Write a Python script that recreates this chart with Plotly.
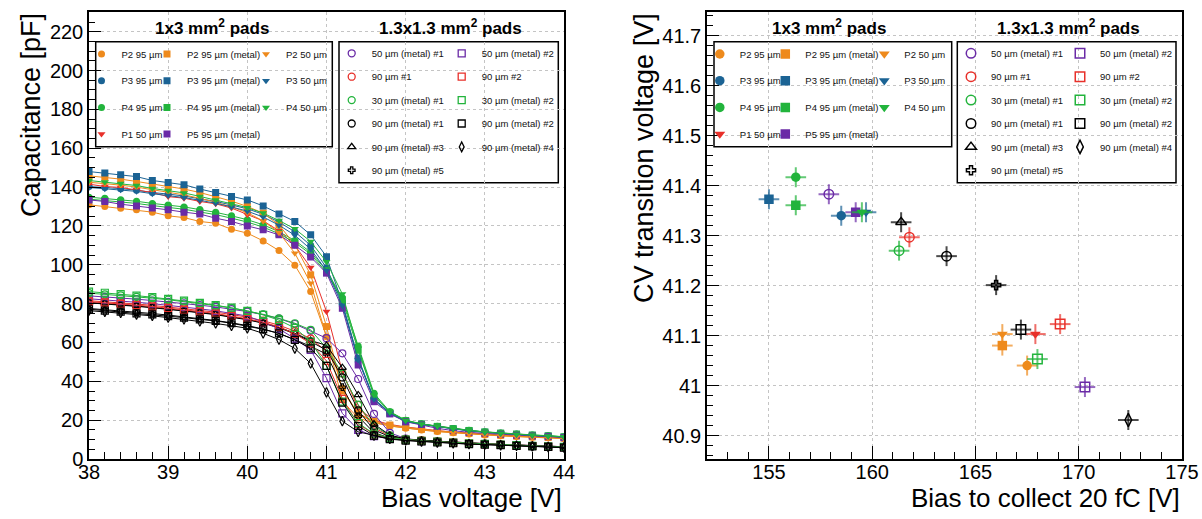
import plotly.graph_objects as go

W, H = 1202, 519

# ---------------- data: left panel (C-V curves) ----------------
bias_v = [38.0, 38.2, 38.4, 38.6, 38.8, 39.0, 39.2, 39.4, 39.6, 39.8, 40.0,
          40.2, 40.4, 40.6, 40.8, 41.0, 41.2, 41.4, 41.6, 41.8, 42.0, 42.2,
          42.4, 42.6, 42.8, 43.0, 43.2, 43.4, 43.6, 43.8, 44.0]

cap_p2_95 = [130.9, 130.0, 129.1, 128.3, 127.1, 125.2, 124.3, 122.3, 121.4, 118.3, 116.3, 112.3, 107.3, 99.8, 86.2,
             63.0, 36.4, 23.0, 19.0, 17.0, 15.8, 14.9, 14.1, 13.5, 12.9, 12.4, 12.0, 11.6, 11.2, 10.9, 10.6]
cap_p3_95 = [140.3, 139.8, 139.2, 138.4, 137.2, 136.4, 135.4, 134.0, 132.6, 130.8, 128.8, 126.0, 122.0, 117.0, 110.0,
             98.5, 80.0, 52.0, 31.0, 23.8, 19.6, 17.9, 16.7, 15.5, 14.6, 13.8, 13.2, 12.7, 12.2, 11.8, 11.3]
cap_p4_95 = [134.8, 134.2, 133.5, 132.7, 131.6, 130.8, 129.8, 128.4, 127.0, 125.2, 123.2, 120.6, 117.0, 112.5, 106.5,
             97.0, 83.0, 58.2, 33.8, 24.4, 20.0, 18.1, 16.9, 15.7, 14.8, 14.0, 13.4, 12.9, 12.4, 12.0, 11.5]
cap_p1_50 = [141.5, 140.3, 139.8, 138.6, 137.2, 135.1, 134.3, 132.6, 131.4, 129.2, 125.7, 122.6, 117.5, 110.0, 98.6,
             75.9, 45.0, 26.0, 20.0, 17.8, 16.5, 15.4, 14.6, 13.9, 13.3, 12.8, 12.3, 11.9, 11.5, 11.2, 10.9]
cap_p2_95m = [145.8, 145.1, 144.1, 142.9, 141.5, 140.2, 139.0, 137.2, 135.0, 132.8, 130.0, 126.6, 120.5, 110.3, 94.8,
              68.2, 35.0, 23.5, 19.5, 17.5, 16.3, 15.3, 14.5, 13.8, 13.2, 12.7, 12.2, 11.8, 11.4, 11.1, 10.8]
cap_p3_95m = [148.0, 147.2, 146.3, 145.4, 143.4, 142.4, 141.2, 139.0, 137.2, 135.1, 133.4, 130.3, 126.2, 122.3, 115.4,
              104.2, 80.2, 51.5, 30.4, 23.5, 19.2, 17.9, 16.7, 15.5, 14.6, 13.8, 13.2, 12.7, 12.2, 11.8, 11.3]
cap_p4_95m = [133.8, 133.1, 132.4, 131.6, 130.5, 129.6, 128.6, 127.2, 125.8, 124.0, 122.0, 119.4, 116.0, 111.5, 105.5,
              96.0, 82.0, 56.0, 32.5, 24.0, 19.8, 18.0, 16.8, 15.6, 14.7, 13.9, 13.3, 12.8, 12.3, 11.9, 11.4]
cap_p5_95m = [133.4, 132.6, 131.2, 130.3, 129.2, 128.3, 127.1, 126.1, 124.0, 122.3, 120.0, 118.0, 115.4, 110.0, 104.0,
              95.7, 77.6, 48.4, 29.5, 23.2, 19.2, 17.5, 15.8, 14.6, 13.7, 13.2, 12.7, 12.2, 11.8, 11.5, 11.0]
cap_p2_50 = [142.5, 141.8, 141.0, 140.0, 138.6, 137.4, 136.0, 134.2, 132.2, 129.8, 126.8, 122.6, 116.5, 106.0, 90.5,
             63.0, 30.0, 21.0, 18.6, 17.0, 15.9, 15.0, 14.2, 13.5, 12.9, 12.4, 11.9, 11.5, 11.1, 10.8, 10.5]
cap_p3_50 = [139.8, 139.2, 138.6, 137.8, 136.6, 135.7, 134.6, 133.2, 131.7, 129.8, 127.6, 124.6, 120.4, 115.2, 108.0,
             97.0, 79.0, 51.0, 30.8, 23.6, 19.5, 17.8, 16.6, 15.4, 14.5, 13.7, 13.1, 12.6, 12.1, 11.7, 11.2]
cap_p4_50 = [143.4, 142.6, 141.8, 140.8, 139.3, 138.3, 137.0, 135.2, 133.4, 131.4, 129.4, 126.6, 122.8, 118.5, 112.0,
             101.5, 85.0, 57.0, 33.0, 24.2, 19.8, 18.0, 16.8, 15.6, 14.7, 13.9, 13.3, 12.8, 12.3, 11.9, 11.4]

cap_50m_1 = [84.0, 83.5, 82.9, 82.3, 81.6, 80.9, 80.1, 79.2, 78.3, 77.2, 75.9, 74.3, 72.3, 69.5, 66.0,
             62.2, 54.4, 41.2, 23.2, 13.5, 10.5, 9.6, 9.1, 8.6, 8.2, 7.9, 7.5, 7.2, 6.9, 6.6, 6.3]
cap_50m_2 = [82.5, 82.0, 81.4, 80.7, 80.0, 79.2, 78.3, 77.3, 76.3, 75.1, 73.6, 70.5, 67.0, 62.0, 56.2,
             41.6, 23.5, 15.0, 11.8, 10.4, 9.8, 9.2, 8.8, 8.4, 8.0, 7.7, 7.3, 7.0, 6.7, 6.4, 6.1]
cap_90_1 = [81.5, 81.0, 80.4, 79.8, 79.1, 78.3, 77.5, 76.6, 75.6, 74.4, 73.0, 71.2, 68.9, 65.8, 62.0,
            55.5, 44.0, 27.8, 16.0, 12.0, 10.3, 9.6, 9.1, 8.6, 8.2, 7.9, 7.5, 7.2, 6.9, 6.6, 6.3]
cap_90_2 = [81.0, 80.5, 79.9, 79.2, 78.5, 77.7, 76.8, 75.9, 74.9, 73.7, 72.2, 70.4, 68.0, 64.5, 59.5,
            50.5, 31.0, 18.0, 12.8, 10.8, 9.9, 9.3, 8.8, 8.4, 8.0, 7.7, 7.3, 7.0, 6.7, 6.4, 6.1]
cap_30m_1 = [85.4, 84.8, 84.2, 83.5, 82.8, 82.0, 81.1, 80.1, 79.0, 77.8, 76.3, 74.5, 72.4, 69.9, 66.5,
             57.0, 44.0, 28.0, 17.0, 12.2, 10.2, 9.5, 9.0, 8.5, 8.1, 7.8, 7.4, 7.1, 6.8, 6.5, 6.2]
cap_30m_2 = [86.2, 85.6, 84.9, 84.1, 83.3, 82.4, 81.5, 80.4, 79.2, 77.9, 76.3, 74.2, 71.5, 67.5, 60.5,
             47.9, 29.5, 18.5, 13.0, 10.9, 10.0, 9.4, 8.9, 8.5, 8.1, 7.8, 7.4, 7.1, 6.8, 6.5, 6.2]
cap_90m_1 = [80.4, 79.9, 79.3, 78.6, 77.9, 77.1, 76.2, 75.3, 74.3, 73.1, 71.7, 69.9, 67.6, 64.4, 60.5,
             56.0, 42.0, 25.0, 15.0, 11.5, 10.0, 9.4, 8.9, 8.4, 8.0, 7.7, 7.3, 7.0, 6.7, 6.4, 6.1]
cap_90m_2 = [77.1, 76.4, 75.9, 75.0, 74.5, 73.6, 72.8, 71.9, 71.1, 69.9, 68.5, 66.8, 64.7, 61.3, 57.0,
             48.0, 29.0, 17.0, 12.0, 10.2, 9.5, 9.0, 8.5, 8.1, 7.7, 7.4, 7.1, 6.8, 6.5, 6.2, 5.9]
cap_90m_3 = [80.6, 80.1, 79.5, 78.8, 78.1, 77.3, 76.4, 75.5, 74.5, 73.3, 71.9, 70.1, 67.8, 64.8, 61.0,
             58.5, 47.0, 33.0, 18.0, 12.3, 10.3, 9.6, 9.1, 8.6, 8.2, 7.9, 7.5, 7.2, 6.9, 6.6, 6.3]
cap_90m_4 = [76.4, 75.8, 75.2, 74.4, 73.7, 72.8, 71.9, 70.9, 69.8, 68.6, 67.3, 64.7, 61.5, 56.9, 49.2,
             34.3, 19.5, 14.0, 12.0, 10.4, 9.6, 9.0, 8.5, 8.1, 7.7, 7.4, 7.1, 6.8, 6.5, 6.2, 5.9]
cap_90m_5 = [77.5, 76.9, 76.3, 75.6, 74.9, 74.1, 73.2, 72.3, 71.3, 70.1, 68.7, 66.9, 64.6, 61.5, 58.0,
             54.0, 37.0, 22.0, 13.5, 10.8, 9.8, 9.2, 8.7, 8.3, 7.9, 7.6, 7.2, 6.9, 6.6, 6.3, 6.0]

# ---------------- data: right panel (transition voltage vs bias) ----------------
series_names = ["P2 95 µm", "P3 95 µm", "P4 95 µm", "P1 50 µm",
                "P2 95 µm (metal)", "P3 95 µm (metal)", "P4 95 µm (metal)", "P5 95 µm (metal)",
                "P2 50 µm", "P3 50 µm", "P4 50 µm",
                "50 µm (metal) #1", "90 µm #1", "30 µm (metal) #1", "90 µm (metal) #1",
                "90 µm (metal) #3", "90 µm (metal) #5",
                "50 µm (metal) #2", "90 µm #2", "30 µm (metal) #2", "90 µm (metal) #2",
                "90 µm (metal) #4"]
bias_20fc = [167.5, 158.5, 156.3, 167.9,
             166.3, 155.0, 156.3, 159.2,
             166.3, 159.7, 159.5,
             157.9, 161.8, 161.3, 163.6, 161.4, 166.0,
             170.3, 169.1, 168.0, 167.2, 172.4]
bias_20fc_err = [0.5] * 22
cv_transition = [41.040, 41.340, 41.417, 41.103,
                 41.080, 41.373, 41.361, 41.347,
                 41.103, 41.347, 41.347,
                 41.383, 41.297, 41.270, 41.259, 41.327, 41.201,
                 40.997, 41.123, 41.053, 41.112, 40.931]
cv_transition_err = [0.02] * 22

cap_curves = [cap_p2_95, cap_p3_95, cap_p4_95, cap_p1_50,
              cap_p2_95m, cap_p3_95m, cap_p4_95m, cap_p5_95m,
              cap_p2_50, cap_p3_50, cap_p4_50,
              cap_50m_1, cap_90_1, cap_30m_1, cap_90m_1, cap_90m_3, cap_90m_5,
              cap_50m_2, cap_90_2, cap_30m_2, cap_90m_2, cap_90m_4]

# ---------------- styles ----------------
ORANGE, BLUE, GREEN, RED, PURPLE, BLACK = "#ee8a1c", "#1b6394", "#22b43c", "#e8302a", "#6a2aa6", "#000000"
colors = [ORANGE, BLUE, GREEN, RED,
          ORANGE, BLUE, GREEN, PURPLE,
          ORANGE, BLUE, GREEN,
          PURPLE, RED, GREEN, BLACK, BLACK, BLACK,
          PURPLE, RED, GREEN, BLACK, BLACK]
symbols = ["circle", "circle", "circle", "triangle-down",
           "square", "square", "square", "square",
           "triangle-down", "triangle-down", "triangle-down",
           "circle-open", "circle-open", "circle-open", "circle-open", "triangle-up-open", "cross-open",
           "square-open", "square-open", "square-open", "square-open", "diamond-tall-open"]
# legend column index (1..5) for each series
legend_col = [1, 1, 1, 1, 2, 2, 2, 2, 3, 3, 3, 4, 4, 4, 4, 4, 4, 5, 5, 5, 5, 5]


def rgba(hexc, a):
    h = hexc.lstrip("#")
    return "rgba(%d,%d,%d,%.2f)" % (int(h[0:2], 16), int(h[2:4], 16), int(h[4:6], 16), a)


def msize(sym, base):
    return base * 0.8 if sym == "cross-open" else base


FONT = "Liberation Sans"
fig = go.Figure()

# left panel curves
for i in range(len(series_names)):
    col = colors[i]
    is_open = symbols[i].endswith("open")
    fig.add_trace(go.Scatter(
        x=bias_v, y=cap_curves[i], mode="lines+markers",
        line=dict(color=col, width=1),
        marker=dict(symbol=symbols[i], size=msize(symbols[i], 7), color=col,
                    line=dict(color=col, width=1.2 if is_open else 0)),
        showlegend=False, xaxis="x", yaxis="y", hoverinfo="skip"))

# left panel legend entries
for i in range(len(series_names)):
    col = colors[i]
    is_open = symbols[i].endswith("open")
    fig.add_trace(go.Scatter(
        x=[None], y=[None], mode="markers", name=series_names[i],
        marker=dict(symbol=symbols[i], size=msize(symbols[i], 7), color=col,
                    line=dict(color=col, width=1.3 if is_open else 0)),
        legend="legend" if legend_col[i] == 1 else "legend%d" % legend_col[i],
        legendgroup="L%d" % i, xaxis="x", yaxis="y"))

# right panel points
for i in range(len(series_names)):
    col = colors[i]
    is_open = symbols[i].endswith("open")
    fig.add_trace(go.Scatter(
        x=[bias_20fc[i]], y=[cv_transition[i]], mode="markers", name=series_names[i],
        marker=dict(symbol=symbols[i], size=msize(symbols[i], 9.5), color=col,
                    line=dict(color=col, width=1.5 if is_open else 0)),
        error_x=dict(type="data", array=[bias_20fc_err[i]], color=rgba(col, 0.7), thickness=2, width=0),
        error_y=dict(type="data", array=[cv_transition_err[i]], color=rgba(col, 0.7), thickness=2, width=0),
        legend="legend%d" % (legend_col[i] + 5), legendgroup="R%d" % i,
        xaxis="x2", yaxis="y2"))

LX = [89 / W, 564 / W]
RX = [707 / W, 1182 / W]
YD = [(H - 459) / H, (H - 12.3) / H]

common = dict(showline=True, linecolor="black", linewidth=1.5, mirror=True,
              ticks="inside", tickcolor="black", tickwidth=1, automargin=False,
              showgrid=True, gridcolor="#c4c4c4", griddash="dot", gridwidth=1,
              zeroline=False, tickfont=dict(family=FONT, size=20, color="black"))

fig.update_layout(
    width=W, height=H, autosize=False,
    margin=dict(l=0, r=0, t=0, b=0, pad=0, autoexpand=False),
    paper_bgcolor="white", plot_bgcolor="white",
    font=dict(family=FONT, color="black"),
    xaxis=dict(domain=LX, range=[38, 44], dtick=1, tick0=38, ticklen=13, ticklabelstandoff=-6,
               minor=dict(ticks="inside", ticklen=7, tickcolor="black", dtick=0.2, showgrid=False),
               anchor="y", **common),
    yaxis=dict(domain=YD, range=[0, 230], dtick=20, tick0=0, ticklen=12,
               minor=dict(ticks="inside", ticklen=6, tickcolor="black", dtick=5, showgrid=False),
               anchor="x", **common),
    xaxis2=dict(domain=RX, range=[152, 175], dtick=5, tick0=150, ticklen=13, ticklabelstandoff=-6,
                minor=dict(ticks="inside", ticklen=7, tickcolor="black", dtick=1, showgrid=False),
                anchor="y2", **common),
    yaxis2=dict(domain=YD, range=[40.853, 41.747], dtick=0.1, tick0=40.9, ticklen=12,
                minor=dict(ticks="inside", ticklen=6, tickcolor="black", dtick=0.02, showgrid=False),
                anchor="x2", **common),
)

# legends: (left px of legend, top px, tracegroupgap); symbol sits 20 px right of the left edge
legend_pos = {
    1: (81.5, 39.5, 7.7), 2: (147.0, 39.5, 7.7), 3: (246.0, 39.5, 7.7),
    4: (331.7, 38.8, 4.4), 5: (441.7, 38.8, 4.4),
    6: (699.8, 39.5, 7.7), 7: (765.3, 39.5, 7.7), 8: (864.3, 39.5, 7.7),
    9: (951.0, 38.8, 4.4), 10: (1060.0, 38.8, 4.4),
}
for k, (lx, ty, gap) in legend_pos.items():
    key = "legend" if k == 1 else "legend%d" % k
    fig.update_layout(**{key: dict(
        x=lx / W, y=1 - ty / H, xanchor="left", yanchor="top", orientation="v",
        bgcolor="rgba(0,0,0,0)", borderwidth=0, traceorder="grouped",
        tracegroupgap=gap, itemclick=False, itemdoubleclick=False,
        font=dict(family=FONT, size=9.5, color="#111111"))})

# legend boxes
boxes = [(95.7, 41.7, 332.3, 146.7), (339.0, 41.7, 558.3, 182.7),
         (714.0, 41.7, 951.7, 146.7), (957.3, 41.7, 1176.0, 182.7)]
shapes = []
for (x0, y0, x1, y1) in boxes:
    shapes.append(dict(type="rect", xref="paper", yref="paper",
                       x0=x0 / W, x1=x1 / W, y0=1 - y1 / H, y1=1 - y0 / H,
                       line=dict(color="black", width=1.5), fillcolor="white", layer="between"))
fig.update_layout(shapes=shapes)

annotations = []
headers = [(211.7, "1x3 mm<sup>2</sup> pads"), (450.0, "1.3x1.3 mm<sup>2</sup> pads"),
           (829.3, "1x3 mm<sup>2</sup> pads"), (1068.3, "1.3x1.3 mm<sup>2</sup> pads")]
for (hx, txt) in headers:
    annotations.append(dict(xref="paper", yref="paper", x=hx / W, y=1 - 26.7 / H,
                            xanchor="center", yanchor="middle", showarrow=False,
                            text="<b>%s</b>" % txt, font=dict(family=FONT, size=17, color="black")))
annotations += [
    dict(xref="paper", yref="paper", x=564 / W, y=1 - 498 / H, xanchor="right", yanchor="middle",
         showarrow=False, text="Bias voltage [V]", font=dict(family=FONT, size=26, color="black")),
    dict(xref="paper", yref="paper", x=1182 / W, y=1 - 498 / H, xanchor="right", yanchor="middle",
         showarrow=False, text="Bias to collect 20 fC [V]", font=dict(family=FONT, size=26, color="black")),
    dict(xref="paper", yref="paper", x=31 / W, y=1 - 11 / H, xanchor="center", yanchor="top",
         textangle=-90, showarrow=False, text="Capacitance [pF]",
         font=dict(family=FONT, size=27, color="black")),
    dict(xref="paper", yref="paper", x=644 / W, y=1 - 11 / H, xanchor="center", yanchor="top",
         textangle=-90, showarrow=False, text="CV transition voltage [V]",
         font=dict(family=FONT, size=27, color="black")),
]
fig.update_layout(annotations=annotations)

fig.write_html("out.html")
